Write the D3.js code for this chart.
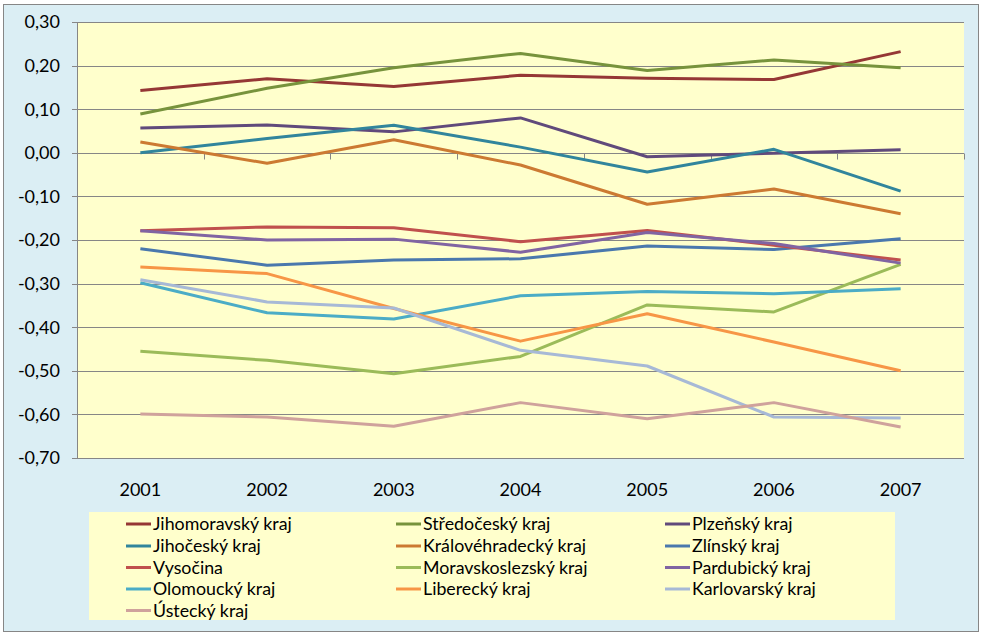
<!DOCTYPE html>
<html><head><meta charset="utf-8">
<script src="https://cdn.jsdelivr.net/npm/d3@7"></script>
<style>
html,body{margin:0;padding:0;background:#fff;}
svg{display:block;font-family:Lato,"Open Sans",sans-serif;}
</style></head>
<body>
<svg id="chart" width="985" height="639"></svg>
<script>
const years = ["2001","2002","2003","2004","2005","2006","2007"];
const regions = ["Jihomoravský kraj","Středočeský kraj","Plzeňský kraj","Jihočeský kraj","Královéhradecký kraj","Zlínský kraj","Vysočina","Moravskoslezský kraj","Pardubický kraj","Olomoucký kraj","Liberecký kraj","Karlovarský kraj","Ústecký kraj"];
const colors = ["#953735","#77933c","#604a7b","#31859c","#cc7a32","#4a78ad","#c0504d","#9bbb59","#8064a2","#4bacc6","#f79646","#a7b9d6","#cfa29c"];
const jihomoravsky   = [0.143,0.170,0.152,0.178,0.171,0.168,0.232];
const stredocesky    = [0.089,0.148,0.195,0.228,0.189,0.213,0.195];
const plzensky       = [0.057,0.064,0.048,0.080,-0.009,-0.001,0.007];
const jihocesky      = [0.000,0.033,0.063,0.013,-0.044,0.008,-0.088];
const kralovehradecky= [0.025,-0.024,0.030,-0.028,-0.118,-0.083,-0.140];
const zlinsky        = [-0.220,-0.258,-0.246,-0.243,-0.214,-0.222,-0.197];
const vysocina       = [-0.179,-0.170,-0.172,-0.204,-0.178,-0.212,-0.246];
const moravskoslezsky= [-0.455,-0.476,-0.507,-0.467,-0.349,-0.365,-0.256];
const pardubicky     = [-0.179,-0.200,-0.198,-0.228,-0.183,-0.208,-0.253];
const olomoucky      = [-0.298,-0.367,-0.381,-0.328,-0.318,-0.323,-0.312];
const liberecky      = [-0.262,-0.277,-0.357,-0.432,-0.369,-0.434,-0.500];
const karlovarsky    = [-0.291,-0.342,-0.356,-0.453,-0.489,-0.606,-0.608];
const ustecky        = [-0.599,-0.606,-0.627,-0.573,-0.610,-0.573,-0.629];
const seriesValues = [jihomoravsky,stredocesky,plzensky,jihocesky,kralovehradecky,zlinsky,vysocina,moravskoslezsky,pardubicky,olomoucky,liberecky,karlovarsky,ustecky];
const yTicks = [0.3,0.2,0.1,0,-0.1,-0.2,-0.3,-0.4,-0.5,-0.6,-0.7];

const svg = d3.select("#chart");
const grid = "#868686";
svg.append("rect").attr("x",3.5).attr("y",4.5).attr("width",975).attr("height",627)
  .attr("fill","#dbeef4").attr("stroke",grid).attr("stroke-width",1);

const pLeft=77, pRight=964, pTop=22, pBottom=458;
const x = d3.scaleBand().domain(years).range([pLeft,pRight]).paddingInner(0).paddingOuter(0);
const y = d3.scaleLinear().domain([-0.7,0.3]).range([pBottom,pTop]);

svg.append("rect").attr("x",pLeft).attr("y",pTop).attr("width",pRight-pLeft).attr("height",pBottom-pTop).attr("fill","#ffffcc");

svg.append("g").selectAll("line").data(yTicks).join("line")
  .attr("x1",pLeft-5).attr("x2",pRight).attr("y1",d=>Math.round(y(d))+0.5).attr("y2",d=>Math.round(y(d))+0.5)
  .attr("stroke",grid).attr("stroke-width",1);
svg.append("line").attr("x1",pLeft+0.5).attr("x2",pLeft+0.5).attr("y1",pTop).attr("y2",pBottom).attr("stroke",grid);
const fmt = d => d3.format(".2f")(d).replace(".",",").replace("−","-");
svg.append("g").selectAll("text").data(yTicks).join("text")
  .attr("x",60).attr("y",d=>y(d)).attr("dy","0.36em").attr("text-anchor","end")
  .attr("font-size",18).attr("fill","#000").text(d=>fmt(d));

const y0 = Math.round(y(0))+0.5;
const bounds = years.map(d=>x(d)).concat([pRight]);
svg.append("g").selectAll("line").data(bounds).join("line")
  .attr("x1",d=>Math.round(d)+0.5).attr("x2",d=>Math.round(d)+0.5).attr("y1",y0).attr("y2",y0+6)
  .attr("stroke",grid);
svg.append("g").selectAll("text").data(years).join("text")
  .attr("x",d=>x(d)+x.bandwidth()/2).attr("y",490).attr("dy","0.36em").attr("text-anchor","middle")
  .attr("font-size",18).attr("fill","#000").text(d=>d);

const line = d3.line().x((d,i)=>x(years[i])+x.bandwidth()/2).y(d=>y(d));
svg.append("g").selectAll("path").data(seriesValues).join("path")
  .attr("d",d=>line(d)).attr("fill","none").attr("stroke",(d,i)=>colors[i])
  .attr("stroke-width",3).attr("stroke-linejoin","round");

const lg = svg.append("g");
lg.append("rect").attr("x",89).attr("y",512).attr("width",806).attr("height",108).attr("fill","#ffffcc");
const colX = [126,396,665];
const rowY = [524,546,567.5,589,610.5];
regions.forEach((r,i)=>{
  const cx = colX[i%3], cy = rowY[Math.floor(i/3)];
  lg.append("line").attr("x1",cx).attr("x2",cx+25).attr("y1",cy).attr("y2",cy).attr("stroke",colors[i]).attr("stroke-width",3);
  lg.append("text").attr("x",cx+27).attr("y",cy).attr("dy","0.36em").attr("font-size",17.8).attr("fill","#000").text(r);
});
</script>
</body></html>
